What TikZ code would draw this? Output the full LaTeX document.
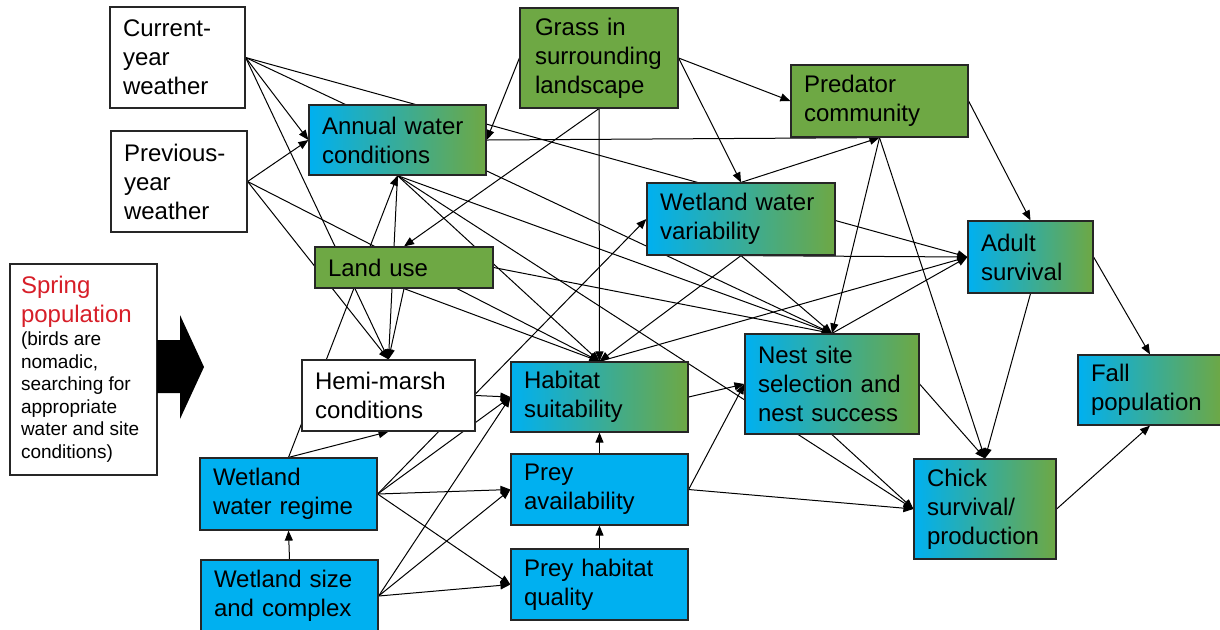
\documentclass[tikz,border=0pt]{standalone}
\usepackage{fontspec}
\setmainfont{Liberation Sans}
\usetikzlibrary{arrows.meta}
\pgfdeclarelayer{back}
\pgfsetlayers{back,main}
\definecolor{waterblue}{RGB}{0,176,240}
\definecolor{landgreen}{RGB}{110,168,68}
\definecolor{springred}{RGB}{215,30,40}
\tikzset{
  box/.style={draw=black!85, line width=0.6pt, rectangle, align=left,
    inner xsep=6.5pt, inner ysep=1pt, font=\fontsize{12}{14.5}\selectfont},
  whitebox/.style={box, fill=white},
  greenbox/.style={box, fill=landgreen},
  bluebox/.style={box, fill=waterblue},
  mixbox/.style={box, left color=waterblue, right color=landgreen},
  link/.style={line width=0.5pt, -{Triangle[length=5pt,width=4pt]}}
}

\begin{document}
\begin{tikzpicture}[x=0.5pt,y=-0.5pt]
  \useasboundingbox (0,0) rectangle (1220,629);

  % boxes, left column
  \node[whitebox, minimum width=67.5pt, minimum height=50.5pt, text width=54.5pt] (cur) at (177.5,57.5) {Current-\\year\\weather};
  \node[whitebox, minimum width=68pt, minimum height=50.5pt, text width=55pt] (prev) at (179,181.5) {Previous-\\year\\weather};
  \node[whitebox, inner xsep=5.5pt, minimum width=73.5pt, minimum height=105.5pt, text width=62.5pt] (spring) at (83.5,369.5)
    {{\color{springred}Spring\\population\par}
     {\fontsize{9.5}{11.3}\selectfont\spaceskip=0pt (birds are\\nomadic,\\searching for\\appropriate\\water and site\\conditions)\par}};
  \fill (157,340) -- (180,340) -- (180,315) -- (204,367) -- (180,419) -- (180,393) -- (157,393) -- cycle;

  % boxes, middle
  \node[mixbox, minimum width=88.5pt, minimum height=35pt, text width=75.5pt] (annual) at (397.5,140) {Annual water\\conditions};
  \node[greenbox, minimum width=79pt, minimum height=50pt, text width=64pt] (grass) at (599,58) {Grass in\\surrounding\\landscape};
  \node[greenbox, minimum width=89pt, minimum height=20.5pt, text width=76pt] (landuse) at (404,267.5) {Land use};
  \node[whitebox, minimum width=86.5pt, minimum height=35.5pt, text width=73.5pt] (hemi) at (388.5,395.5) {Hemi-marsh\\conditions};
  \node[bluebox, minimum width=88.5pt, minimum height=36pt, text width=75.5pt] (wwr) at (288.5,494) {Wetland\\water regime};
  \node[bluebox, minimum width=88.5pt, minimum height=36pt, text width=75.5pt] (size) at (289.5,596) {Wetland size\\and complex};
  \node[mixbox, minimum width=88.5pt, minimum height=35pt, text width=75.5pt] (habitat) at (599.5,397) {Habitat\\suitability};
  \node[bluebox, minimum width=88.5pt, minimum height=35.5pt, text width=75.5pt] (preyav) at (599.5,489.5) {Prey\\availability};
  \node[bluebox, minimum width=88.5pt, minimum height=35.5pt, text width=75.5pt] (preyhq) at (599.5,584.5) {Prey habitat\\quality};

  % boxes, right
  \node[greenbox, minimum width=88.5pt, minimum height=36pt, text width=75.5pt] (pred) at (879.5,101) {Predator\\community};
  \node[mixbox, minimum width=94pt, minimum height=36pt, text width=81pt] (wwv) at (741,219) {Wetland water\\variability};
  \node[mixbox, minimum width=87pt, minimum height=50pt, text width=74pt] (nest) at (832,384) {Nest site\\selection and\\nest success};
  \node[mixbox, minimum width=62.5pt, minimum height=36pt, text width=49.5pt] (adult) at (1030.5,257) {Adult\\survival};
  \node[mixbox, minimum width=71pt, minimum height=50pt, text width=58pt] (chick) at (985,509) {Chick\\survival/\\production};
  \node[mixbox, minimum width=72pt, minimum height=35pt, text width=59pt] (fall) at (1150,390) {Fall\\population};

  % connectors behind the boxes
  \begin{pgfonlayer}{back}
    \draw[link] (cur.east) -- (annual.west);
    \draw[link] (prev.east) -- (annual.west);
    \draw[link] (cur.east) -- (adult.west);
    \draw[link] (cur.east) -- (nest.north);
    \draw[link] (cur.east) -- (hemi.north);
    \draw[link] (prev.east) -- (hemi.north);
    \draw[link] (prev.east) -- (habitat.north);
    \draw[link] (grass.west) -- (annual.east);
    \draw[link] (grass.south) -- (landuse.north);
    \draw[link] (grass.south) -- (habitat.north);
    \draw[link] (grass.east) -- (wwv.north);
    \draw[link] (grass.east) -- (pred.west);
    \draw[link] (annual.east) -- (pred.south);
    \draw[link] (annual.south) -- (hemi.north);
    \draw[link] (annual.south) -- (habitat.north);
    \draw[link] (annual.south) -- (nest.north);
    \draw[link] (annual.south) -- (chick.west);
    \draw[link] (landuse.south) -- (hemi.north);
    \draw[link] (landuse.south) -- (habitat.north);
    \draw[link] (landuse.east) -- (nest.north);
    \draw[link] (wwv.north) -- (pred.south);
    \draw[link] (wwv.south) -- (adult.west);
    \draw[link] (wwv.south) -- (habitat.north);
    \draw[link] (wwv.south) -- (nest.north);
    \draw[link] (pred.east) -- (adult.north);
    \draw[link] (pred.south) -- (nest.north);
    \draw[link] (pred.south) -- (chick.north);
    \draw[link] (adult.east) -- (fall.north);
    \draw[link] (adult.south) -- (chick.north);
    \draw[link] (chick.east) -- (fall.south);
    \draw[link] (nest.east) -- (chick.north);
    \draw[link] (nest.south) -- (chick.west);
    \draw[link] (nest.north) -- (adult.west);
    \draw[link] (habitat.north) -- (adult.west);
    \draw[link] (habitat.east) -- (nest.west);
    \draw[link] (hemi.east) -- (habitat.west);
    \draw[link] (preyav.east) -- (nest.west);
    \draw[link] (preyav.east) -- (chick.west);
    \draw[link] (preyav.north) -- (habitat.south);
    \draw[link] (preyhq.north) -- (preyav.south);
    \draw[link] (wwr.north) -- (hemi.south);
    \draw[link] (wwr.north) -- (annual.south);
    \draw[link] (wwr.east) -- (wwv.west);
    \draw[link] (wwr.east) -- (habitat.west);
    \draw[link] (wwr.east) -- (preyav.west);
    \draw[link] (wwr.east) -- (preyhq.west);
    \draw[link] (size.north) -- (wwr.south);
    \draw[link] (size.east) -- (habitat.west);
    \draw[link] (size.east) -- (preyav.west);
    \draw[link] (size.east) -- (preyhq.west);
  \end{pgfonlayer}
\end{tikzpicture}
\end{document}
